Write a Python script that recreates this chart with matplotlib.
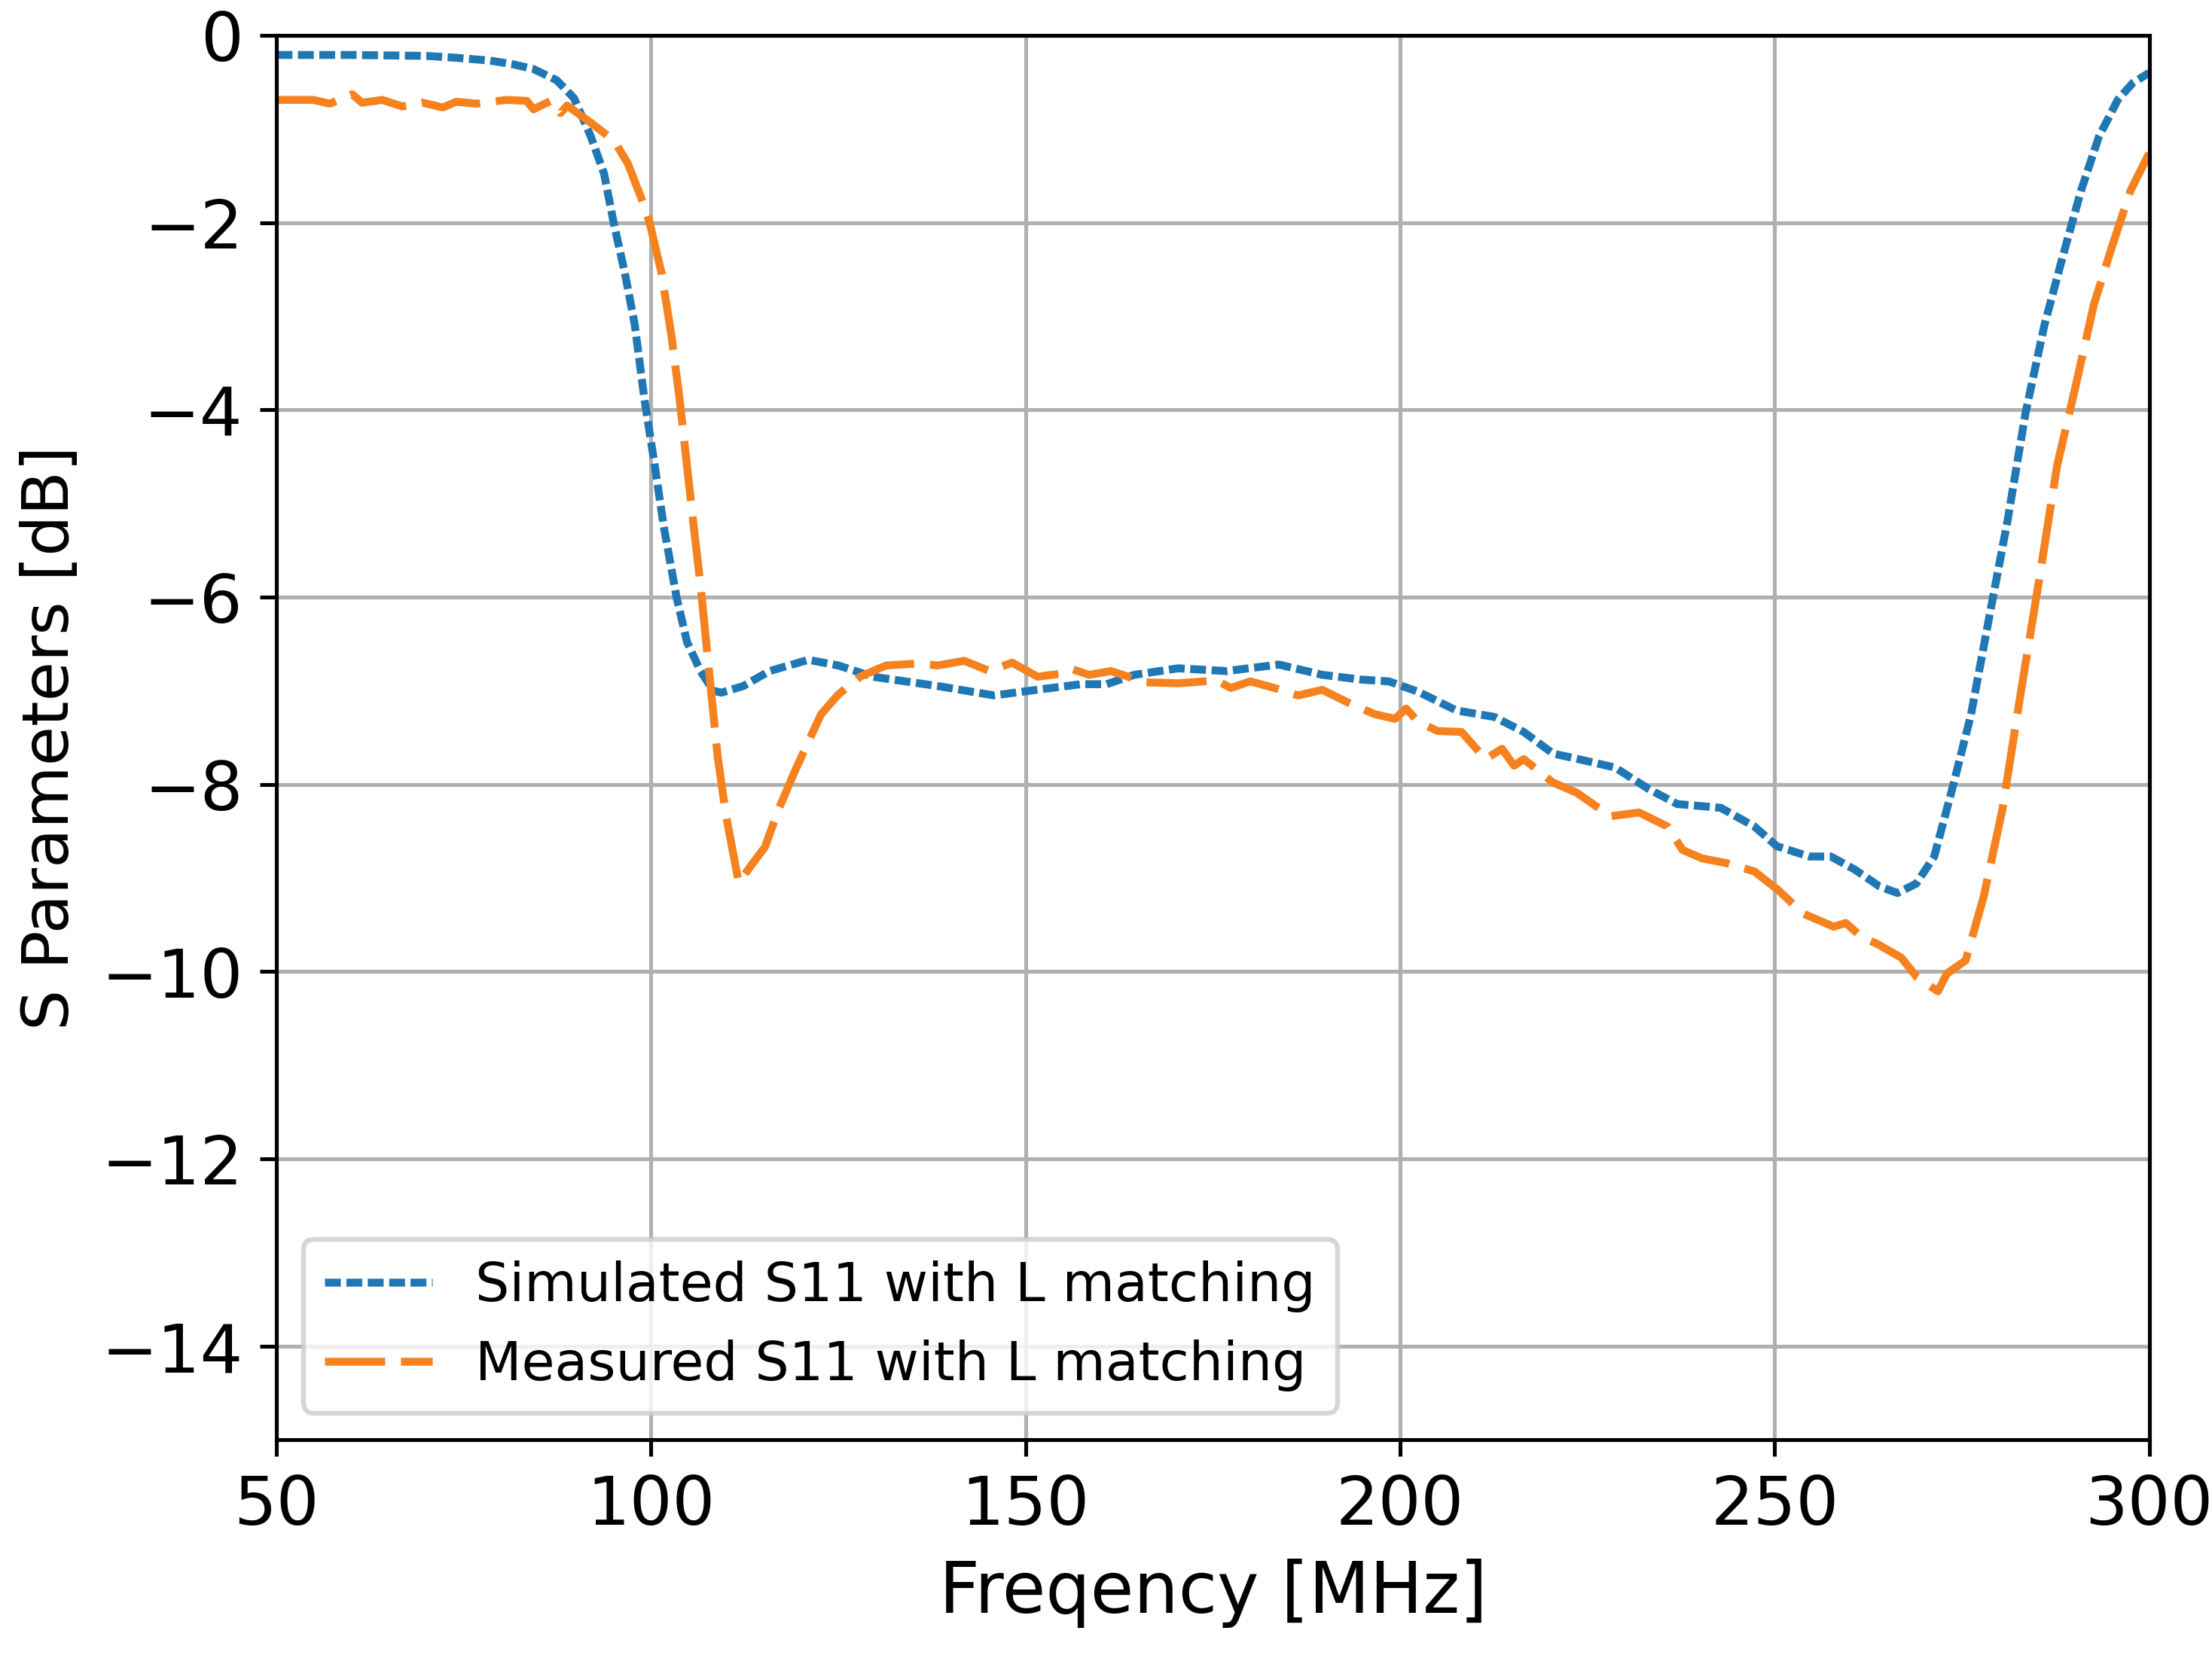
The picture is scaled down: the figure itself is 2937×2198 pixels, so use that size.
import matplotlib
matplotlib.use("Agg")
import matplotlib.pyplot as plt

# simulated S11
sim_freq = [50, 60, 70, 74, 78.5, 81.6, 84.3, 87.4, 89.7, 91.9,
            93.7, 95.0, 96.5, 97.8, 99.1, 100.5, 101.7, 103.4, 104.8, 106.6,
            108.3, 109.4, 112.3, 115.8, 121.0, 125.0, 129.6, 138.3, 145.8, 150.5,
            157.4, 160.8, 164.5, 170.4, 176.8, 183.8, 189.6, 194.7, 198.5, 202.4,
            207.5, 212.6, 216.5, 220.4, 224.9, 228.7, 233.2, 237.0, 242.8, 247.3,
            250.3, 254.6, 257.5, 260.7, 264.0, 266.4, 268.9, 271.3, 273.7, 276.2,
            278.7, 281.1, 283.5, 286.0, 288.4, 290.9, 293.3, 295.8, 297.8, 300]
sim_s11 = [-0.21, -0.21, -0.22, -0.24, -0.27, -0.31, -0.36, -0.48, -0.67, -1.07,
           -1.47, -2.0, -2.54, -3.08, -3.88, -4.6, -5.25, -6.0, -6.48, -6.79,
           -7.0, -7.02, -6.95, -6.79, -6.67, -6.73, -6.85, -6.95, -7.05, -7.0,
           -6.93, -6.93, -6.83, -6.76, -6.79, -6.72, -6.83, -6.88, -6.90, -7.01,
           -7.21, -7.28, -7.44, -7.67, -7.75, -7.82, -8.05, -8.21, -8.25, -8.45,
           -8.66, -8.77, -8.77, -8.91, -9.09, -9.16, -9.06, -8.77, -8.05, -7.26,
           -6.19, -5.18, -4.03, -3.10, -2.38, -1.66, -1.08, -0.69, -0.51, -0.40]

# measured S11
meas_freq = [50, 54.9, 57.1, 60.1, 61.4, 64.1, 66.8, 69.5, 72.2, 74.0,
             76.7, 80.7, 83.4, 84.3, 86.6, 87.9, 88.8, 92.4, 95.1, 96.9,
             98.7, 99.8, 101.4, 102.7, 103.8, 105.7, 106.6, 107.7, 108.9, 110.0,
             111.7, 113.5, 115.2, 117.0, 119.3, 122.7, 125.0, 127.9, 129.6, 131.4,
             135.4, 138.3, 141.8, 145.2, 148.2, 151.6, 154.5, 156.2, 158.5, 161.4,
             166.0, 170.4, 175.5, 177.4, 180.0, 183.2, 186.4, 189.6, 192.9, 196.6,
             199.3, 200.8, 202.4, 205.0, 208.2, 211.4, 213.6, 215.2, 216.5, 220.4,
             223.6, 226.1, 228.1, 231.9, 235.7, 237.7, 240.3, 243.5, 247.3, 250.5,
             253.8, 257.9, 259.5, 261.6, 263.6, 266.9, 269.0, 271.8, 273.0, 275.5,
             277.9, 280.4, 282.8, 285.3, 287.7, 290.2, 292.6, 295.1, 297.5, 300]
meas_s11 = [-0.69, -0.69, -0.73, -0.63, -0.72, -0.69, -0.76, -0.72, -0.77, -0.71,
            -0.73, -0.69, -0.70, -0.79, -0.70, -0.83, -0.75, -0.96, -1.13, -1.37,
            -1.74, -2.0, -2.54, -3.2, -3.88, -5.25, -5.87, -6.76, -7.71, -8.33,
            -9.05, -8.85, -8.67, -8.27, -7.84, -7.25, -7.04, -6.85, -6.79, -6.73,
            -6.71, -6.73, -6.68, -6.79, -6.70, -6.85, -6.82, -6.77, -6.83, -6.79,
            -6.91, -6.92, -6.89, -6.97, -6.90, -6.97, -7.05, -6.99, -7.12, -7.25,
            -7.30, -7.19, -7.33, -7.43, -7.44, -7.73, -7.62, -7.80, -7.73, -7.98,
            -8.09, -8.23, -8.34, -8.30, -8.45, -8.70, -8.79, -8.84, -8.93, -9.13,
            -9.38, -9.52, -9.48, -9.63, -9.70, -9.85, -10.06, -10.21, -10.02, -9.88,
            -9.20, -8.27, -7.05, -5.82, -4.60, -3.74, -2.88, -2.24, -1.66, -1.26]

x_ticks = [50, 100, 150, 200, 250, 300]
y_ticks = [0, -2, -4, -6, -8, -10, -12, -14]

fig = plt.figure(figsize=(6.4, 4.789), dpi=459)
ax = fig.add_axes([0.125, 0.130, 0.8464, 0.8486])

ax.plot(sim_freq, sim_s11, color='#1f77b4', lw=1.65, dashes=(2.0, 0.7),
        label='Simulated S11 with L matching')
ax.plot(meas_freq, meas_s11, color='#f5821f', lw=1.65, dashes=(7.6, 2.0),
        label='Measured S11 with L matching')

ax.set_xlim(50, 300)
ax.set_ylim(-15, 0)
ax.set_xticks(x_ticks)
ax.set_yticks(y_ticks)
ax.tick_params(labelsize=14)
ax.grid(True, color='#b0b0b0', lw=0.8)
ax.set_xlabel('Freqency [MHz]', fontsize=14.7)
ax.set_ylabel('S Parameters [dB]', fontsize=13.4)
ax.legend(loc='lower left', fontsize=11.2)

fig.savefig('out.png', dpi=459)
